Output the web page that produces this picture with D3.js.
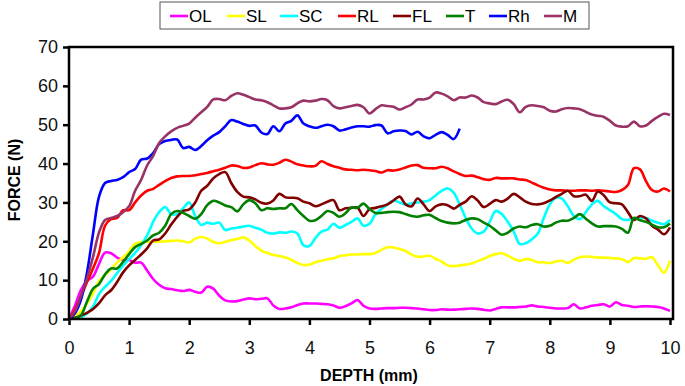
<!DOCTYPE html>
<html lang="en">
<head>
  <meta charset="UTF-8" />
  <title>Force vs depth</title>
  <script src="https://d3js.org/d3.v7.min.js"></script>
  <style>
    body { margin: 0; background: white; font-family: "Liberation Sans", Arial, sans-serif; }
  </style>
</head>
<body>
  <svg width="685" height="386"></svg>

  <script>
    // depth grid (mm)
    const depth = [0,0.1,0.2,0.3,0.4,0.5,0.6,0.7,0.8,0.9,1,1.1,1.2,1.3,1.4,1.5,1.6,1.7,1.8,1.9,2,2.1,2.2,2.3,2.4,2.5,2.6,2.7,2.8,2.9,3,3.1,3.2,3.3,3.4,3.5,3.6,3.7,3.8,3.9,4,4.1,4.2,4.3,4.4,4.5,4.6,4.7,4.8,4.9,5,5.1,5.2,5.3,5.4,5.5,5.6,5.7,5.8,5.9,6,6.1,6.2,6.3,6.4,6.5,6.6,6.7,6.8,6.9,7,7.1,7.2,7.3,7.4,7.5,7.6,7.7,7.8,7.9,8,8.1,8.2,8.3,8.4,8.5,8.6,8.7,8.8,8.9,9,9.1,9.2,9.3,9.4,9.5,9.6,9.7,9.8,9.9,10];

    // force (N) per sample
    const OL = [0,3.5,7.5,9.8,10.9,14.2,17.1,16.9,15.8,15.2,15.2,14.5,14.5,12.5,10.3,8.8,7.9,7.7,7.4,7.2,7.5,7.0,6.8,8.3,7.8,6.0,4.8,4.5,4.6,5.0,5.3,5.1,5.2,5.3,3.5,2.6,2.7,3.0,3.6,4.0,4.0,4.0,3.9,3.8,3.5,2.9,3.3,4.0,4.9,3.4,2.7,2.6,2.7,2.8,2.8,2.9,2.9,2.8,2.7,2.5,2.3,2.3,2.5,2.4,2.4,2.5,2.6,2.7,2.6,2.4,2.2,2.6,3.0,3.0,3.0,3.1,3.2,3.5,3.2,3.1,2.9,2.7,2.7,2.8,3.8,2.7,3.0,3.4,3.6,3.8,3.2,4.3,3.6,3.4,3.1,3.2,3.3,3.2,3.1,2.7,2.1];
    const SL = [0,0.8,2.0,4.0,6.6,9.8,11.3,12.8,14.5,15.9,17.4,19.4,19.8,19.9,19.8,19.9,20.0,20.1,20.2,20.0,19.7,20.7,21.1,20.7,19.8,19.5,19.8,20.3,20.6,21.0,20.2,18.8,17.6,17.0,16.5,16.2,15.8,15.2,14.4,13.9,14.0,14.6,15.0,15.4,15.6,16.2,16.4,16.6,16.6,16.7,16.7,17.0,17.8,18.5,18.4,18.0,17.5,16.6,16.0,16.1,16.3,15.5,14.8,13.8,13.6,13.8,14.0,14.3,14.9,15.5,16.2,16.7,16.9,16.3,15.5,15.0,15.4,15.2,14.6,14.6,14.4,14.8,15.0,14.4,15.3,15.9,16.1,16.0,15.8,15.8,15.7,15.6,15.4,14.7,15.7,15.6,15.5,15.9,13.8,11.9,15.0];
    const SC = [0,0.2,0.5,1.4,3.2,6.4,8.3,9.8,11.8,13.7,15.4,17.0,19.0,21.5,25.0,27.5,28.8,27.0,27.0,28.5,30.0,26.5,24.2,24.8,24.5,24.8,22.9,23.3,23.5,23.8,24.0,23.5,23.0,22.2,22.0,22.3,22.2,22.5,22.0,19.0,18.8,20.8,22.5,23.0,24.5,23.5,24.2,25.0,25.9,24.0,24.5,27.0,28.3,29.5,30.5,30.0,29.5,29.8,30.0,30.2,30.6,31.8,33.0,33.6,32.5,29.5,26.0,23.3,22.0,22.5,25.0,27.8,27.0,25.0,22.5,19.3,19.5,20.5,22.0,26.0,29.5,31.2,31.0,29.0,26.5,25.7,27.5,29.5,30.4,29.0,28.0,27.0,25.7,25.5,25.9,26.0,26.0,25.3,24.8,24.4,25.5];
    const RL = [0,2.5,5.8,9.5,13.0,17.0,24.0,25.7,26.0,28.0,28.0,30.0,31.8,33.0,33.5,34.5,35.5,36.3,36.7,36.8,36.8,37.0,37.3,37.6,38.0,38.4,38.9,39.5,39.4,38.9,39.0,39.6,40.1,39.8,39.7,40.2,41.0,40.5,39.8,39.5,39.3,39.4,40.6,39.9,39.3,38.9,38.5,38.4,38.3,38.4,38.3,38.1,37.7,38.3,38.2,38.5,39.0,39.5,39.6,38.9,38.8,38.8,39.2,38.8,38.0,37.3,36.8,36.9,36.5,36.0,35.8,36.3,36.2,36.2,36.2,35.9,35.8,35.1,34.4,33.8,33.3,33.1,33.1,33.0,33.0,33.1,33.1,33.0,33.1,33.0,32.8,32.7,33.2,34.5,38.8,38.5,35.5,33.2,32.8,33.6,32.8];
    const FL = [0,0.3,0.9,1.6,2.6,4.1,6.1,7.4,9.5,12.0,13.8,15.2,16.6,18.2,20.2,20.5,22.0,24.3,26.3,27.8,28.2,30.0,33.0,34.3,36.2,37.3,37.8,35.0,32.7,31.5,31.3,30.8,29.9,29.7,30.5,32.2,31.3,31.2,31.1,30.2,29.8,29.0,29.5,30.2,30.6,28.0,28.5,28.6,28.7,26.5,28.3,28.6,29.0,29.5,30.5,31.5,29.5,29.0,31.0,29.5,27.8,29.0,29.5,29.3,28.4,29.4,30.2,31.6,30.5,28.8,29.6,30.6,30.2,31.0,32.2,31.3,30.2,29.6,29.5,29.8,30.5,31.4,32.2,33.0,31.6,31.6,32.0,30.4,32.8,31.8,30.0,29.8,29.5,27.5,25.5,26.5,25.9,24.0,23.0,21.8,23.6];
    const T = [0,0.2,1.0,4.5,7.8,9.0,11.5,13.0,13.0,14.7,16.7,18.5,19.3,20.2,21.5,22.2,24.0,27.0,27.8,27.3,26.5,25.8,27.0,29.3,30.4,30.0,29.2,28.8,27.7,29.5,30.6,29.8,28.0,28.5,28.3,28.5,28.5,29.6,28.0,26.5,25.3,25.4,26.5,27.8,27.3,26.3,27.2,28.7,28.6,29.7,28.3,27.3,27.3,27.5,27.6,27.5,27.0,26.5,26.3,26.7,26.8,26.0,25.2,24.8,24.6,24.8,25.5,25.9,25.7,24.8,24.0,22.8,21.7,22.2,23.3,23.8,23.6,24.2,24.4,23.8,24.0,24.8,25.3,25.3,26.0,27.0,25.8,24.6,23.8,23.9,23.9,23.8,23.2,22.2,26.0,25.4,25.0,24.3,23.6,23.6,24.6];
    // Rh stops at 6.5 mm
    const Rh = [0,1.5,5.0,12.0,22.0,31.5,35.0,35.5,35.8,36.5,37.8,38.6,41.0,41.3,42.7,45.0,45.8,46.1,46.2,44.0,44.3,43.5,44.5,46.0,47.2,48.1,49.6,51.2,50.8,50.2,49.7,49.8,48.0,47.6,49.6,48.3,50.3,51.0,52.4,50.3,49.6,49.2,49.6,50.0,49.6,48.5,48.8,49.3,49.6,49.6,49.5,49.9,49.8,47.8,48.3,48.5,48.4,47.5,48.2,47.0,46.5,47.4,48.1,47.4,46.3,49.0];
    const M = [0,2.0,6.0,10.5,16.0,22.3,25.5,26.0,26.5,27.5,29.0,33.0,35.8,39.5,42.0,45.3,47.0,48.3,49.2,49.7,50.3,51.8,53.2,54.6,56.5,56.6,56.3,57.4,58.1,57.7,57.1,56.5,56.3,55.8,55.0,54.2,54.2,54.5,55.5,56.2,56.0,56.2,56.6,56.3,54.8,54.2,54.5,54.8,55.1,54.5,52.9,54.0,55.0,54.8,54.6,53.9,54.5,55.2,56.5,56.5,57.0,58.3,58.0,57.3,56.3,57.0,57.0,57.5,57.0,55.8,55.5,55.3,56.0,56.4,55.3,53.2,54.6,55.0,54.8,54.5,53.6,53.4,54.0,54.3,54.2,54.0,53.3,52.6,52.3,52.0,51.0,49.8,49.5,49.6,50.8,49.6,49.8,51.0,52.0,52.8,52.5];

    const names = ["OL", "SL", "SC", "RL", "FL", "T", "Rh", "M"];
    const colors = ["#ff00ff", "#ffff00", "#00ffff", "#ff0000", "#800000", "#008000", "#0000ff", "#993366"];
    const xTicks = [0,1,2,3,4,5,6,7,8,9,10];
    const yTicks = [0,10,20,30,40,50,60,70];

    const series = [OL, SL, SC, RL, FL, T, Rh, M];

    const svg = d3.select("svg");
    const plotL = 69, plotR = 673, plotT = 47, plotB = 319;

    const x = d3.scaleLinear().domain([0, 10]).range([plotL, 670]);
    const y = d3.scaleLinear().domain([0, 70]).range([plotB, plotT]);

    // axes
    svg.append("g")
      .attr("transform", `translate(0,${plotB})`)
      .call(d3.axisBottom(x).tickValues(xTicks).tickSize(6).tickPadding(16))
      .call(g => g.select(".domain").remove())
      .call(g => g.selectAll("line").attr("stroke", "#000").attr("stroke-width", 2.5))
      .call(g => g.selectAll("text").attr("font-size", "18px").attr("font-family", "Liberation Sans, Arial, sans-serif").attr("fill", "#111"));

    svg.append("g")
      .attr("transform", `translate(${plotL},0)`)
      .call(d3.axisLeft(y).tickValues(yTicks).tickSize(6).tickPadding(5))
      .call(g => g.select(".domain").remove())
      .call(g => g.selectAll("line").attr("stroke", "#000").attr("stroke-width", 2.5))
      .call(g => g.selectAll("text").attr("font-size", "18px").attr("font-family", "Liberation Sans, Arial, sans-serif").attr("fill", "#111"));

    // lines
    const line = d3.line()
      .x((d, i) => x(depth[i]))
      .y(d => y(d))
      .curve(d3.curveCatmullRom.alpha(0.5));

    const plot = svg.append("g");
    series.forEach((s, k) => {
      plot.append("path")
        .attr("d", line(s))
        .attr("fill", "none")
        .attr("stroke", colors[k])
        .attr("stroke-width", 2.6)
        .attr("stroke-linejoin", "round");
    });

    // frame
    svg.append("rect")
      .attr("x", plotL).attr("y", plotT)
      .attr("width", plotR - plotL).attr("height", plotB - plotT)
      .attr("fill", "none").attr("stroke", "#000").attr("stroke-width", 2.5);

    // axis titles
    svg.append("text")
      .attr("x", 369).attr("y", 381)
      .attr("text-anchor", "middle")
      .attr("font-size", "16px").attr("font-weight", "bold")
      .text("DEPTH (mm)");

    svg.append("text")
      .attr("transform", "translate(20,180) rotate(-90)")
      .attr("text-anchor", "middle")
      .attr("font-size", "16px").attr("font-weight", "bold")
      .text("FORCE (N)");

    // legend
    const legend = svg.append("g");
    legend.append("rect")
      .attr("x", 160).attr("y", 2).attr("width", 429).attr("height", 27)
      .attr("fill", "white").attr("stroke", "#555").attr("stroke-width", 1);

    const legX = [170, 227, 280, 338, 393, 446, 489, 544];
    names.forEach((n, k) => {
      legend.append("line")
        .attr("x1", legX[k]).attr("x2", legX[k] + 18)
        .attr("y1", 16).attr("y2", 16)
        .attr("stroke", colors[k]).attr("stroke-width", 2.6);
      legend.append("text")
        .attr("x", legX[k] + 19).attr("y", 22)
        .attr("font-size", "17px")
        .text(n);
    });
  </script>
</body>
</html>
